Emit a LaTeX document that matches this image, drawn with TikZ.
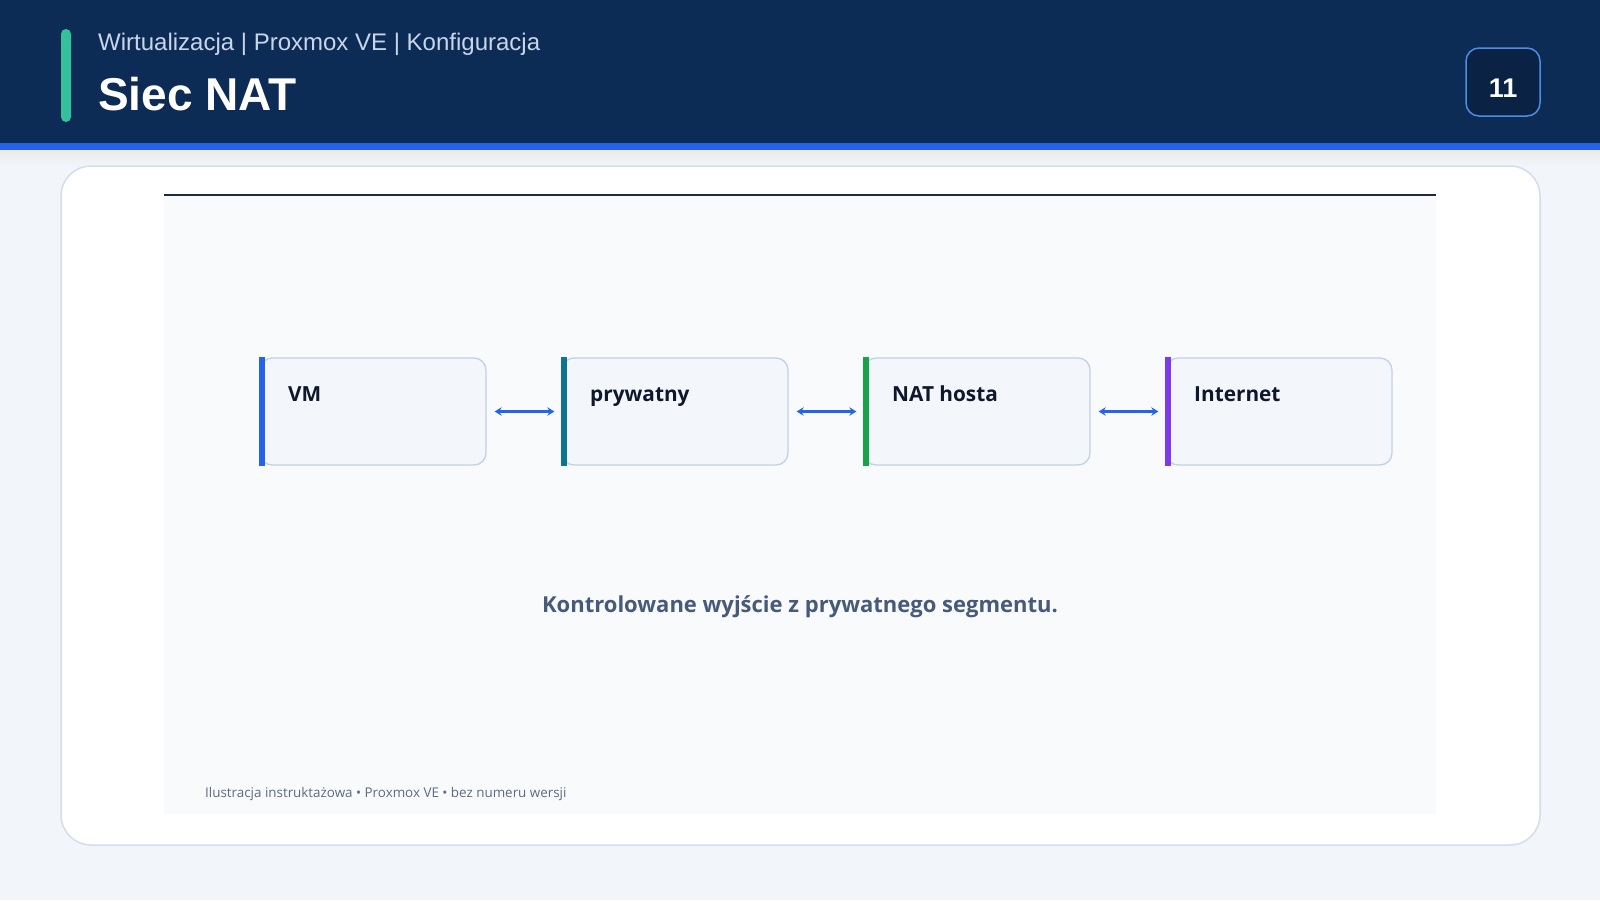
\documentclass[tikz,border=0pt]{standalone}
\usepackage{fontspec}
\setmainfont{Open Sans}
\newfontfamily\headfont{Liberation Sans}
\usetikzlibrary{arrows.meta, positioning}
\definecolor{navy}{HTML}{0C2B55}
\definecolor{accent}{HTML}{2563EB}
\definecolor{mint}{HTML}{34C29E}
\definecolor{subtle}{HTML}{C9D6EA}
\definecolor{badgefill}{HTML}{0A2344}
\definecolor{badgeline}{HTML}{4F8CE6}
\definecolor{pagebg}{HTML}{F2F5FA}
\definecolor{cardline}{HTML}{D3DEEC}
\definecolor{panel}{HTML}{F8FAFC}
\definecolor{rule}{HTML}{1E2A44}
\definecolor{boxfill}{HTML}{F3F7FC}
\definecolor{boxline}{HTML}{C0D1EA}
\definecolor{ink}{HTML}{0F172A}
\definecolor{caption}{HTML}{475A7A}
\definecolor{foot}{HTML}{5B6B84}
\definecolor{teal}{HTML}{0E7490}
\definecolor{green}{HTML}{16A34A}
\definecolor{purple}{HTML}{7C3AED}

\begin{document}
\begin{tikzpicture}[x=1pt,y=-1pt]
    \tikzstyle{proc}  = [rectangle, rounded corners=12pt, minimum width=226pt, minimum height=107pt, draw=boxline, fill=boxfill, line width=1.3pt]
    \tikzstyle{lbl}   = [anchor=base west, inner sep=0pt, text=ink, font=\bfseries\fontsize{20.8}{24}\selectfont]
    \tikzstyle{arrow} = [line width=2.6pt, draw=accent, {Stealth[length=7pt,width=8.5pt]}-{Stealth[length=7pt,width=8.5pt]}, shorten <=8pt, shorten >=7pt]
    % page and header
    \fill[pagebg] (0,0) rectangle (1600,900);
    \fill[navy] (0,0) rectangle (1600,143);
    \fill[accent] (0,143) rectangle (1600,150);
    \shade[top color=black!8, bottom color=pagebg] (0,150) rectangle (1600,166);
    \fill[mint, rounded corners=5pt] (61,29) rectangle (71,122);
    \node (crumb) [anchor=base west, inner sep=0pt, text=subtle, font=\headfont\fontsize{24}{28}\selectfont] at (98,50) {Wirtualizacja | Proxmox VE | Konfiguracja};
    \node (title) [anchor=base west, inner sep=0pt, text=white, font=\headfont\bfseries\fontsize{46}{50}\selectfont] at (98,110) {Siec NAT};
    \node (page) [draw=badgeline, fill=badgefill, line width=1.5pt, rounded corners=13pt, minimum width=74pt, minimum height=68pt] at (1503,82) {};
    \node [text=white, font=\headfont\bfseries\fontsize{27}{30}\selectfont] at ([yshift=-6pt]page.center) {11};
    % card and panel
    \draw[cardline, fill=white, line width=1.5pt, rounded corners=30pt] (61,166) rectangle (1540,845);
    \fill[panel] (164,194) rectangle (1436,814);
    \draw[rule, line width=2pt] (164,195) -- (1436,195);
    % boxes
    \node (vm)   [proc] at (373,411.5)  {};
    \node (priv) [proc] at (675,411.5)  {};
    \node (nat)  [proc] at (977,411.5)  {};
    \node (inet) [proc] at (1279,411.5) {};
    \fill[accent] ([xshift=0pt]vm.north west) rectangle ([xshift=6pt]vm.south west);
    \fill[teal] ([xshift=0pt]priv.north west) rectangle ([xshift=6pt]priv.south west);
    \fill[green] ([xshift=0pt]nat.north west) rectangle ([xshift=6pt]nat.south west);
    \fill[purple] ([xshift=0pt]inet.north west) rectangle ([xshift=6pt]inet.south west);
    \node [lbl] at (288,401)  {VM};
    \node [lbl] at (590,401)  {prywatny};
    \node [lbl] at (892,401)  {NAT hosta};
    \node [lbl] at (1194,401) {Internet};
    \draw[arrow] (vm) to (priv);
    \draw[arrow] (priv) to (nat);
    \draw[arrow] (nat) to (inet);
    % texts
    \node (note) [anchor=base, inner sep=0pt, text=caption, font=\bfseries\fontsize{22}{26}\selectfont] at (800,612) {Kontrolowane wyjście z prywatnego segmentu.};
    \node (foot) [anchor=base west, inner sep=0pt, text=foot, font=\fontsize{13.4}{16}\selectfont] at (205,797) {Ilustracja instruktażowa • Proxmox VE • bez numeru wersji};
\end{tikzpicture}
\end{document}
